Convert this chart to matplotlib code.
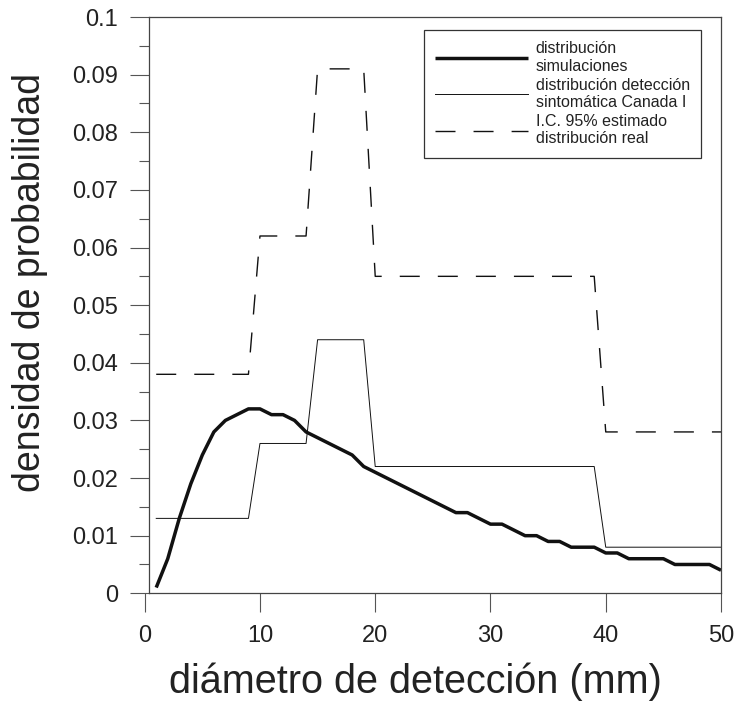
import matplotlib
matplotlib.use("Agg")
import matplotlib.pyplot as plt
from matplotlib.ticker import MultipleLocator, FixedLocator

plt.rcParams['font.family'] = ['Liberation Sans', 'DejaVu Sans']
plt.rcParams['lines.scale_dashes'] = False

# simulated detection-diameter density (mm -> probability density)
sim_x = list(range(1, 51))
sim_y = [0.001, 0.006, 0.013, 0.019, 0.024, 0.028, 0.030, 0.031, 0.032, 0.032,
         0.031, 0.031, 0.030, 0.028, 0.027, 0.026, 0.025, 0.024, 0.022, 0.021,
         0.020, 0.019, 0.018, 0.017, 0.016, 0.015, 0.014, 0.014, 0.013, 0.012,
         0.012, 0.011, 0.010, 0.010, 0.009, 0.009, 0.008, 0.008, 0.008, 0.007,
         0.007, 0.006, 0.006, 0.006, 0.006, 0.005, 0.005, 0.005, 0.005, 0.004]

# symptomatic detection, Canada I (binned)
step_x = [1, 9, 10, 14, 15, 19, 20, 39, 40, 50]
canada_y = [0.013, 0.013, 0.026, 0.026, 0.044, 0.044, 0.022, 0.022, 0.008, 0.008]

# 95% CI of the estimated real distribution
ci_y = [0.038, 0.038, 0.062, 0.062, 0.091, 0.091, 0.055, 0.055, 0.028, 0.028]

xticks = [0, 10, 20, 30, 40, 50]
yticks = [0, 0.01, 0.02, 0.03, 0.04, 0.05, 0.06, 0.07, 0.08, 0.09, 0.1]
ytick_labels = ['0', '0.01', '0.02', '0.03', '0.04', '0.05', '0.06', '0.07',
                '0.08', '0.09', '0.1']

labels = ['distribución\nsimulaciones',
          'distribución detección\nsintomática Canada I',
          'I.C. 95% estimado\ndistribución real']

fig = plt.figure(figsize=(7.34, 7.02), dpi=100)
ax = fig.add_axes([0.19714, 0.15484, 0.78515, 0.82094])

ax.plot(sim_x, sim_y, color='#111111', lw=2.5, solid_joinstyle='round',
        solid_capstyle='butt', label=labels[0])
ax.plot(step_x, canada_y, color='#111111', lw=0.7, label=labels[1])
ax.plot(step_x, ci_y, color='#111111', lw=1.0, dashes=(14.4, 13.0),
        label=labels[2])

ax.set_xlim(0, 50)
ax.set_ylim(0, 0.1)

spine_col = '#444444'
for s in ax.spines.values():
    s.set_color(spine_col)
    s.set_linewidth(0.9)
ax.spines['left'].set_position(('data', 0.37))
ax.spines['bottom'].set_bounds(0.37, 50)
ax.spines['top'].set_bounds(0.37, 50)

ax.xaxis.set_major_locator(FixedLocator(xticks))
ax.set_xticklabels([str(v) for v in xticks])
ax.yaxis.set_major_locator(FixedLocator(yticks))
ax.set_yticklabels(ytick_labels)
ax.yaxis.set_minor_locator(MultipleLocator(0.005))

ax.tick_params(axis='both', which='major', direction='out', length=14,
               width=0.8, color='#555555', labelsize=17, labelcolor='#222222')
ax.tick_params(axis='y', which='minor', direction='out', length=7,
               width=0.8, color='#555555')
ax.tick_params(axis='y', which='major', pad=8.4)
ax.tick_params(axis='x', which='major', pad=9)

fig.text(0.5654, 0.0128, 'diámetro de detección (mm)', fontsize=28.5,
         ha='center', va='baseline', color='#222222')
fig.text(0.0409, 0.5969, 'densidad de probabilidad', fontsize=27,
         rotation=90, ha='center', va='center', color='#222222')

leg = ax.legend(loc='upper right', bbox_to_anchor=(701 / 734, (702 - 30) / 702),
                bbox_transform=fig.transFigure, fontsize=11.5,
                frameon=True, fancybox=False, framealpha=1,
                edgecolor='#333333', handlelength=5.8, handletextpad=0.5,
                borderpad=0.7, labelspacing=0.25, borderaxespad=0)
leg.get_frame().set_linewidth(0.9)
for t in leg.get_texts():
    t.set_linespacing(1.2)
    t.set_color('#222222')

fig.savefig('out.png', dpi=100)
